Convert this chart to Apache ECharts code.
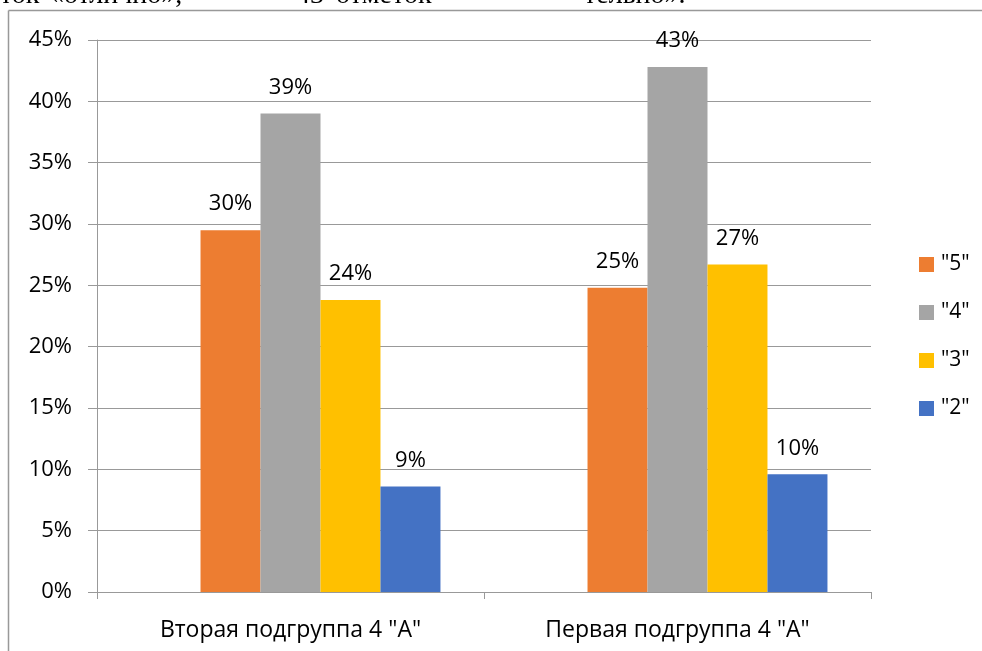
<!DOCTYPE html>
<html>
<head>
<meta charset="utf-8">
<script src="https://cdn.jsdelivr.net/npm/echarts@6/dist/echarts.min.js"></script>
<style>
html,body{margin:0;padding:0;background:#fff;}
#chart{width:982px;height:651px;}
</style>
</head>
<body>
<div id="chart"></div>
<script>
const categories = ['Вторая подгруппа 4 "А"', 'Первая подгруппа 4 "А"'];
const seriesNames = ['"5"', '"4"', '"3"', '"2"'];
const emptyLeading = [null, null];
const values5 = [29.5, 24.8];
const values4 = [39.0, 42.8];
const values3 = [23.8, 26.7];
const values2 = [8.6, 9.6];
const seriesColors = ['#ED7D31', '#A5A5A5', '#FFC000', '#4472C4'];
const yMin = 0, yMax = 45, yStep = 5;
const headerWords = [
  {text: 'ток', x: 0},
  {text: '«отлично»,', x: 50},
  {text: '43', x: 296},
  {text: 'отметок', x: 336},
  {text: 'тельно».', x: 584}
];

const FONT = 'Open Sans';
const allValues = [values5, values4, values3, values2];

const chart = echarts.init(document.getElementById('chart'), null, {renderer: 'canvas'});

const series = [{
  name: 'empty',
  type: 'bar',
  data: emptyLeading,
  barGap: '0%',
  barCategoryGap: '22.5%',
  silent: true
}].concat(seriesNames.map((name, i) => ({
  name: name,
  type: 'bar',
  data: allValues[i],
  barGap: '0%',
  barCategoryGap: '22.5%',
  itemStyle: {color: seriesColors[i]},
  label: {
    show: true,
    position: 'top',
    distance: 15,
    color: '#000',
    fontFamily: FONT,
    fontSize: 22,
    formatter: p => Math.round(p.value) + '%'
  }
})));

const graphics = [
  {type: 'line', shape: {x1: 8.5, y1: 10.5, x2: 982, y2: 10.5}, style: {stroke: '#999', lineWidth: 1.5}, silent: true},
  {type: 'line', shape: {x1: 8.5, y1: 10.5, x2: 8.5, y2: 651}, style: {stroke: '#999', lineWidth: 1.5}, silent: true}
].concat(headerWords.map(w => ({
  type: 'text',
  x: w.x,
  y: -4,
  style: {text: w.text, fill: '#000', font: '28px "Liberation Serif"', textAlign: 'left', textVerticalAlign: 'middle'},
  silent: true
})));

chart.setOption({
  animation: false,
  backgroundColor: '#fff',
  textStyle: {fontFamily: FONT},
  grid: {left: 97, right: 111, top: 40, bottom: 59, containLabel: false},
  legend: {
    orient: 'vertical',
    left: 914,
    top: 249,
    itemWidth: 15,
    itemHeight: 15,
    itemGap: 27,
    icon: 'rect',
    data: seriesNames,
    textStyle: {color: '#000', fontFamily: FONT, fontSize: 21, padding: [0, 0, 0, 2]}
  },
  xAxis: {
    type: 'category',
    data: categories,
    axisLine: {show: true, lineStyle: {color: '#999', width: 1}},
    axisTick: {show: true, length: 7, lineStyle: {color: '#999'}},
    axisLabel: {color: '#000', fontFamily: FONT, fontSize: 23, margin: 27}
  },
  yAxis: {
    type: 'value',
    min: yMin,
    max: yMax,
    interval: yStep,
    axisLine: {show: true, lineStyle: {color: '#999', width: 1}},
    axisTick: {show: true, length: 9, lineStyle: {color: '#999'}},
    splitLine: {show: true, lineStyle: {color: '#999', width: 1}},
    axisLabel: {color: '#000', fontFamily: FONT, fontSize: 22, margin: 25, formatter: '{value}%'}
  },
  series: series,
  graphic: graphics
});
</script>
</body>
</html>
